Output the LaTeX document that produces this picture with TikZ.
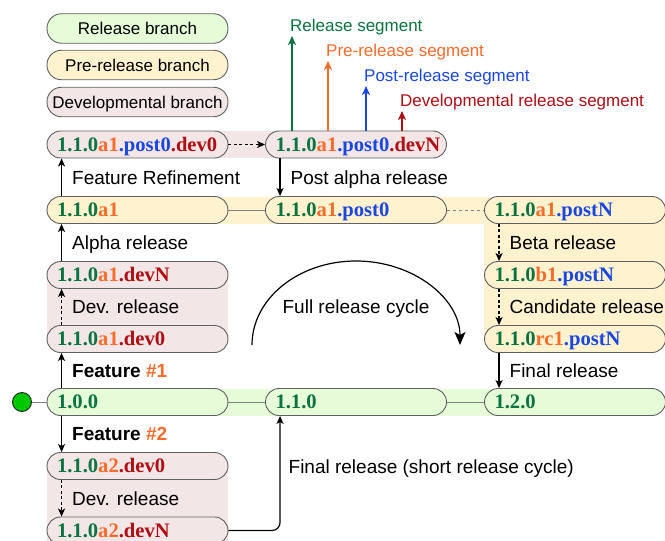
\documentclass[tikz,border=0pt]{standalone}
\usepackage{fontspec}
\setmainfont{Liberation Sans}
\newfontfamily\verfont{Liberation Serif}
\usetikzlibrary{arrows.meta}

\definecolor{relgreen}{HTML}{0A7340}
\definecolor{preorange}{HTML}{F76B2B}
\definecolor{postblue}{HTML}{1A47E0}
\definecolor{devred}{HTML}{B00D14}
\definecolor{relfill}{HTML}{E6FCD9}
\definecolor{prefill}{HTML}{FFF2CF}
\definecolor{devfill}{HTML}{F3E6E6}
\definecolor{edgegray}{HTML}{606060}
\definecolor{startgreen}{HTML}{00C800}

\newcommand{\segrel}[1]{\textcolor{relgreen}{#1}}
\newcommand{\segpre}[1]{\textcolor{preorange}{#1}}
\newcommand{\segpost}[1]{\textcolor{postblue}{#1}}
\newcommand{\segdev}[1]{\textcolor{devred}{#1}}

\tikzset{
  version/.style={draw=edgegray, line width=0.9pt, rounded corners=13.5pt,
    text width=161pt, inner xsep=10pt, inner ysep=0pt, minimum height=27pt,
    align=left, text height=13.9pt, text depth=0pt,
    font=\verfont\bfseries\fontsize{20.6}{24}\selectfont},
  legendbox/.style={draw=edgegray, line width=0.9pt, rounded corners=14.5pt,
    minimum width=181pt, minimum height=29.5pt, inner sep=0pt,
    text height=12.2pt, text depth=0pt, font=\fontsize{17}{20}\selectfont},
  lbl/.style={anchor=west, xshift=10pt, inner sep=0pt, text height=13.6pt,
    text depth=0pt, font=\fontsize{19}{22}\selectfont},
  arr/.style={-{Stealth[length=8pt,width=7pt,inset=2pt]}, line width=1.2pt},
  darr/.style={arr, dash pattern=on 3pt off 2.5pt},
  segarr/.style={-{Stealth[length=9pt,width=8pt,inset=2.5pt]}, line width=1.5pt},
  link/.style={draw=gray, line width=0.9pt},
}

\begin{document}
\begin{tikzpicture}[x=1pt,y=-1pt]
\useasboundingbox (0,0) rectangle (665,541);

%draw bands
\fill[devfill] (137.5,131) rectangle (356,158);
\fill[prefill] (137.5,196.5) rectangle (575,223.5);
\fill[prefill] (484,210) rectangle (665,339);
\fill[devfill] (47,275) rectangle (228,339);
\fill[relfill] (137.5,388.5) rectangle (575,415.5);
\fill[devfill] (47,466) rectangle (228,541);

%legend
\node[legendbox, fill=relfill] (l-rel) at (137.5,28.5) {Release branch};
\node[legendbox, fill=prefill] (l-pre) at (137.5,65) {Pre-release branch};
\node[legendbox, fill=devfill] (l-dev) at (137.5,102) {Developmental branch};

%version nodes
\node[version, fill=devfill] (n-a1post0dev0) at (137.5,144.5) {\segrel{1.1.0}\segpre{a1}\segpost{.post0}\segdev{.dev0}};
\node[version, fill=devfill] (n-a1post0devN) at (356,144.5) {\segrel{1.1.0}\segpre{a1}\segpost{.post0}\segdev{.devN}};

\node[version, fill=prefill] (n-a1) at (137.5,210) {\segrel{1.1.0}\segpre{a1}};
\node[version, fill=prefill] (n-a1post0) at (356,210) {\segrel{1.1.0}\segpre{a1}\segpost{.post0}};
\node[version, fill=prefill] (n-a1postN) at (575,210) {\segrel{1.1.0}\segpre{a1}\segpost{.postN}};

\node[version, fill=devfill] (n-a1devN) at (137.5,275) {\segrel{1.1.0}\segpre{a1}\segdev{.devN}};
\node[version, fill=devfill] (n-a1dev0) at (137.5,339) {\segrel{1.1.0}\segpre{a1}\segdev{.dev0}};
\node[version, fill=prefill] (n-b1postN) at (575,275) {\segrel{1.1.0}\segpre{b1}\segpost{.postN}};
\node[version, fill=prefill] (n-rc1postN) at (575,339) {\segrel{1.1.0}\segpre{rc1}\segpost{.postN}};

\node[version, fill=relfill] (n-100) at (137.5,402) {\segrel{1.0.0}};
\node[version, fill=relfill] (n-110) at (356,402) {\segrel{1.1.0}};
\node[version, fill=relfill] (n-120) at (575,402) {\segrel{1.2.0}};

\node[version, fill=devfill] (n-a2dev0) at (137.5,466) {\segrel{1.1.0}\segpre{a2}\segdev{.dev0}};
\node[version, fill=devfill] (n-a2devN) at (137.5,530.5) {\segrel{1.1.0}\segpre{a2}\segdev{.devN}};

\node[circle, draw=black!85, line width=0.9pt, fill=startgreen, minimum size=19pt, inner sep=0pt] (start) at (22,402) {};

%segment arrows
\foreach \sx/\sy/\col/\txt [count=\i] in {292/36/relgreen/Release segment,
    328/61/preorange/Pre-release segment, 366/86/postblue/Post-release segment,
    402/111/devred/Developmental release segment}
{
  \coordinate (seg\i) at (\sx,\sy);
  \draw[segarr, \col] (n-a1post0devN.north -| seg\i) -- (seg\i);
  \node[anchor=base west, inner sep=0pt, text=\col, font=\fontsize{17}{20}\selectfont]
    at ([xshift=-2pt, yshift=5pt]seg\i) {\txt};
}

%links on the branches
\draw[link] (start) -- (n-100.west);
\draw[link] (n-100.east) -- (n-110.west);
\draw[link] (n-110.east) -- (n-120.west);
\draw[link] (n-a1.east) -- (n-a1post0.west);
\draw[link, dashed] (n-a1post0.east) -- (n-a1postN.west);
\draw[darr] (n-a1post0dev0.east) -- (n-a1post0devN.west);

%release arrows
\draw[arr] ([xshift=15pt]n-a1.north west) -- ([xshift=15pt]n-a1post0dev0.south west)
  node[lbl, midway] {Feature Refinement};
\draw[arr] ([xshift=15pt]n-a1post0devN.south west) -- ([xshift=15pt]n-a1post0.north west)
  node[lbl, midway] {Post alpha release};
\draw[arr] ([xshift=15pt]n-a1devN.north west) -- ([xshift=15pt]n-a1.south west)
  node[lbl, midway] {Alpha release};
\draw[darr] ([xshift=15pt]n-a1dev0.north west) -- ([xshift=15pt]n-a1devN.south west)
  node[lbl, midway] {Dev. release};
\draw[arr] ([xshift=15pt]n-100.north west) -- ([xshift=15pt]n-a1dev0.south west)
  node[lbl, midway] {\textbf{Feature \segpre{\#1}}};
\draw[arr] ([xshift=15pt]n-100.south west) -- ([xshift=15pt]n-a2dev0.north west)
  node[lbl, midway] {\textbf{Feature \segpre{\#2}}};
\draw[darr] ([xshift=15pt]n-a2dev0.south west) -- ([xshift=15pt]n-a2devN.north west)
  node[lbl, midway] {Dev. release};
\draw[darr] ([xshift=15pt]n-a1postN.south west) -- ([xshift=15pt]n-b1postN.north west)
  node[lbl, midway] {Beta release};
\draw[darr] ([xshift=15pt]n-b1postN.south west) -- ([xshift=15pt]n-rc1postN.north west)
  node[lbl, midway] {Candidate release};
\draw[arr] ([xshift=15pt]n-rc1postN.south west) -- ([xshift=15pt]n-120.north west)
  node[lbl, midway] {Final release};
\draw[arr, rounded corners=8pt] (n-a2devN.east) -| ([xshift=15pt]n-110.south west)
  node[lbl, pos=0.78, xshift=-2pt] {Final release (short release cycle)};

%full cycle
\coordinate (cyc) at (252,345);
\draw[-{Stealth[length=13pt,width=11pt,inset=3pt]}, line width=1.2pt]
  (cyc) arc[start angle=180, end angle=0, x radius=104pt, y radius=84pt];
\node[inner sep=0pt, text height=13.6pt, text depth=0pt, font=\fontsize{19}{22}\selectfont]
  (cyc-lbl) at (356,307) {Full release cycle};

\end{tikzpicture}
\end{document}
